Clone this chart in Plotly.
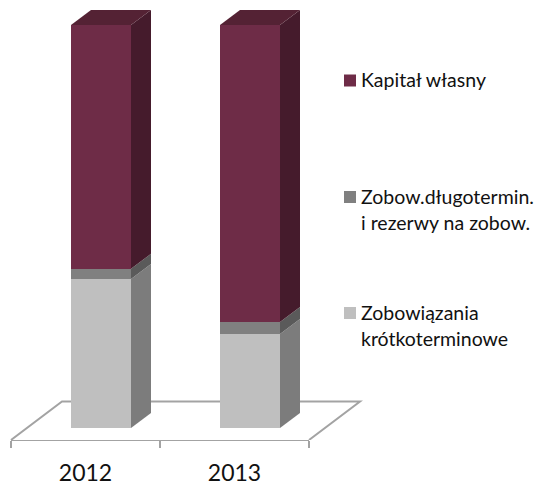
import plotly.graph_objects as go

categories = ["2012", "2013"]
series_names = ["Zobowiązania krótkoterminowe", "Zobow.długotermin. i rezerwy na zobow.", "Kapitał własny"]
short_term = [37.0, 23.3]
long_term = [2.5, 3.0]
equity = [60.5, 73.7]
series_values = [short_term, long_term, equity]

front_colors = ["#bfbfbf", "#808080", "#6e2c47"]
side_colors = ["#7c7c7c", "#5a5a5a", "#451b2c"]
top_color = "#542234"
floor_color = "#a3a3a3"

W, H = 539, 483
PLOT_BOTTOM = 440
PX_PER_CAT = 149.0
PX_PER_PCT = 4.03
X0_PX = 85.5
BASE_PX = 428

def dx(px):
    return px / PX_PER_CAT

def dy(px):
    return px / PX_PER_PCT

x_range = [-X0_PX / PX_PER_CAT, (W - X0_PX) / PX_PER_CAT]
y_range = [-(PLOT_BOTTOM - BASE_PX) / PX_PER_PCT, BASE_PX / PX_PER_PCT]

cat_pos = list(range(len(categories)))
bar_center = [c + dx(15.5) for c in cat_pos]
bar_w = dx(60)
depth_x, depth_y = dx(20), dy(15)

fig = go.Figure()
for name, vals, col in zip(series_names, series_values, front_colors):
    fig.add_trace(go.Bar(x=bar_center, y=vals, width=bar_w, name=name, showlegend=False,
                         marker=dict(color=col, line=dict(width=0)), hoverinfo="name+y"))

def poly(xs, ys, col):
    fig.add_trace(go.Scatter(x=xs, y=ys, mode="lines", fill="toself", fillcolor=col,
                             line=dict(width=0, color=col), showlegend=False, hoverinfo="skip"))

for i, c in enumerate(bar_center):
    xr = c + bar_w / 2
    xl = c - bar_w / 2
    base = 0.0
    for vals, col in zip(series_values, side_colors):
        top = base + vals[i]
        poly([xr, xr + depth_x, xr + depth_x, xr, xr],
             [base, base + depth_y, top + depth_y, top, base], col)
        base = top
    poly([xl, xr, xr + depth_x, xl + depth_x, xl],
         [base, base, base + depth_y, base + depth_y, base], top_color)

# floor of the 3D plot, behind the bars
fy0 = y_range[0]
fy1 = fy0 + dy(38.5)
fdx = dx(51)
fx0, fx1 = -0.5, len(categories) - 0.5
fig.add_shape(type="path", layer="below", xref="x", yref="y",
              path=f"M{fx0},{fy0} L{fx0 + fdx},{fy1} L{fx1 + fdx},{fy1} L{fx1},{fy0}",
              line=dict(color=floor_color, width=2), fillcolor="white")

# legend
legend_rows = [
    (2, ["Kapitał własny"], 80.5, [79]),
    (1, ["Zobow.długotermin.", "i rezerwy na zobow."], 197, [196, 222.5]),
    (0, ["Zobowiązania", "krótkoterminowe"], 313, [312, 338]),
]
FONT = "Lato, Carlito, Calibri, sans-serif"
for idx, lines, sq_y, text_ys in legend_rows:
    fig.add_shape(type="rect", xref="paper", yref="paper",
                  x0=344 / W, x1=356 / W,
                  y0=1 - (sq_y - 6) / PLOT_BOTTOM, y1=1 - (sq_y + 6) / PLOT_BOTTOM,
                  fillcolor=front_colors[idx], line=dict(width=0))
    for line, ty in zip(lines, text_ys):
        fig.add_annotation(text=line, xref="paper", yref="paper", x=361 / W,
                           y=1 - ty / PLOT_BOTTOM, xanchor="left", yanchor="middle",
                           showarrow=False, align="left", xshift=-2,
                           font=dict(family=FONT, size=19.5, color="#111111"))

fig.update_layout(
    width=W, height=H, barmode="stack", showlegend=False,
    margin=dict(l=0, r=0, t=0, b=H - PLOT_BOTTOM, pad=0, autoexpand=False),
    paper_bgcolor="white", plot_bgcolor="white",
    xaxis=dict(range=x_range, showgrid=False, zeroline=False, showline=False, automargin=False,
               tickmode="array", tickvals=cat_pos, ticktext=categories,
               ticks="outside", ticklen=12, tickcolor="rgba(0,0,0,0)",
               tickfont=dict(family=FONT, size=23, color="#111111"),
               minor=dict(tickmode="array", tickvals=[-0.5, 0.5, 1.5], ticks="outside",
                          ticklen=7, tickcolor=floor_color, tickwidth=2),
               fixedrange=True),
    yaxis=dict(range=y_range, visible=False, fixedrange=True, automargin=False),
)
fig.add_shape(type="line", xref="x", yref="paper", x0=fx0, x1=fx1, y0=0, y1=0,
              line=dict(color=floor_color, width=2), layer="below")

fig.write_html("out.html", config={"displayModeBar": False},
               post_script="document.body.style.margin='0';document.body.style.overflow='hidden';")
